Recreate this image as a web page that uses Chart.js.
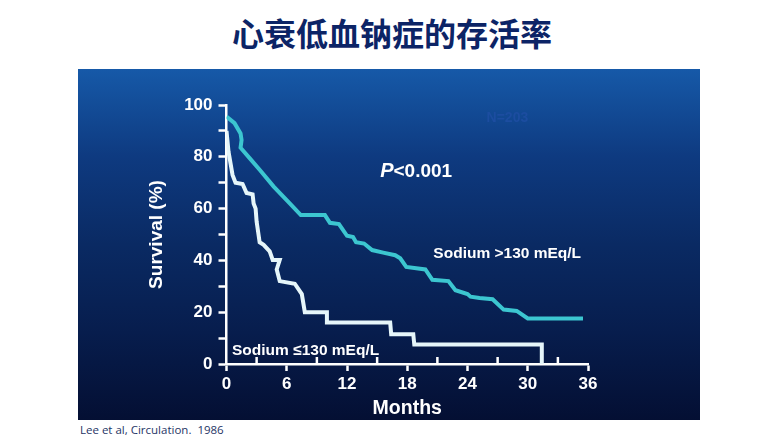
<!DOCTYPE html>
<html>
<head>
<meta charset="utf-8">
<script src="https://cdn.jsdelivr.net/npm/chart.js@4"></script>
<style>
    body { margin: 0; width: 778px; height: 444px; background: #fff; position: relative; overflow: hidden; }
    #title { position: absolute; left: 0; top: 12px; width: 784px; text-align: center;
        font: bold 32px "Noto Sans CJK SC", sans-serif; color: #0c2466; line-height: 40px; }
    #panel { position: absolute; left: 78px; top: 69px; width: 622px; height: 351px;
        background: linear-gradient(to bottom, #1659a8 0%, #0e3a80 25%, #0a2a63 50%, #071d4d 75%, #040f33 100%); }
    #foot { position: absolute; left: 80px; top: 422px; font: 11.5px "Open Sans", sans-serif; color: #1f3566; }
</style>
</head>
<body>
<div id="title">心衰低血钠症的存活率</div>
<div id="panel"><canvas id="km_chart" width="622" height="351"></canvas></div>
<div id="foot">Lee et al, Circulation.&nbsp; 1986</div>
<script>
// Kaplan-Meier curves (months, % survival)
var highMonths =   [0, 0.8, 1.4, 1.5, 1.4, 2.3, 3.3, 4.7, 6.3, 7.4, 9.8, 10.3, 11.2, 12.0, 12.6, 12.9, 13.7, 14.5, 15.6, 16.8, 17.3, 17.9, 19.8, 20.5, 22.1, 22.8, 24.0, 24.3, 25.2, 26.5, 27.6, 28.9, 30.0, 35.5];
var highSurvival = [95.5, 93, 89, 86.5, 83.5, 79.5, 75, 68.5, 62, 57.5, 57.5, 54.5, 54, 49.5, 49, 47, 46.5, 44, 43, 42, 40.8, 37.5, 36.5, 32.5, 32, 28.5, 27, 26, 25.5, 25, 21, 20.5, 17.6, 17.6];

var lowMonths =   [0, 0.2, 0.6, 0.9, 1.6, 2.0, 2.6, 2.7, 2.9, 3.0, 3.3, 3.7, 4.3, 4.6, 5.3, 5.0, 5.3, 6.8, 7.5, 7.8, 10.0, 10.0, 16.3, 16.4, 18.6, 18.7, 31.4, 31.4];
var lowSurvival = [90, 82, 73, 70, 69.5, 66, 65.5, 62, 60, 55, 47, 46, 43.5, 40.2, 40.2, 36.5, 32, 31, 27, 20, 20, 16, 16, 11.5, 11.5, 7.5, 7.5, 0];

var yTicks = [0, 20, 40, 60, 80, 100];
var xTicks = [0, 6, 12, 18, 24, 30, 36];

// text labels: [text, month, survival]
var notes = [
    ["Sodium >130 mEq/L", 20.6, 42.6],
    ["Sodium \u2264130 mEq/L", 0.55, 5.3],
];
var pNote = ["P", "<0.001", 15.3, 74.2];
var nNote = ["N=203", 25.9, 95];

function toPoints(xs, ys) {
    return xs.map((x, i) => ({ x: x, y: ys[i] }));
}

const extras = {
    id: "extras",
    afterDraw(chart) {
        const ctx = chart.ctx;
        const xs = chart.scales.x, ys = chart.scales.y;
        ctx.save();
        // minor x ticks pointing up
        ctx.strokeStyle = "#ffffff";
        ctx.lineWidth = 2.5;
        for (let m = 3; m < 36; m += 6) {
            const px = xs.getPixelForValue(m);
            ctx.beginPath();
            ctx.moveTo(px, ys.bottom);
            ctx.lineTo(px, ys.bottom - 7);
            ctx.stroke();
        }
        ctx.fillStyle = "#ffffff";
        ctx.textBaseline = "middle";
        ctx.font = "bold 15.5px 'Liberation Sans', Arial, sans-serif";
        notes.forEach((n) => {
            ctx.fillText(n[0], xs.getPixelForValue(n[1]), ys.getPixelForValue(n[2]));
        });
        // P value
        let px = xs.getPixelForValue(pNote[2]);
        let py = ys.getPixelForValue(pNote[3]);
        ctx.font = "italic bold 20px 'Liberation Sans', Arial, sans-serif";
        ctx.fillText(pNote[0], px, py);
        px += ctx.measureText(pNote[0]).width;
        ctx.font = "bold 19px 'Liberation Sans', Arial, sans-serif";
        ctx.fillText(pNote[1], px, py);
        // faint N label
        ctx.fillStyle = "#1c4da0";
        ctx.font = "bold 14px 'Liberation Sans', Arial, sans-serif";
        ctx.fillText(nNote[0], xs.getPixelForValue(nNote[1]), ys.getPixelForValue(nNote[2]));
        ctx.restore();
    },
};

new Chart("km_chart", {
    type: "line",
    data: {
        datasets: [
            {
                label: "Sodium >130 mEq/L",
                data: toPoints(highMonths, highSurvival),
                borderColor: "#3cc6d0",
                borderWidth: 4,
                pointRadius: 0,
                tension: 0,
                borderJoinStyle: "miter",
            },
            {
                label: "Sodium \u2264130 mEq/L",
                data: toPoints(lowMonths, lowSurvival),
                borderColor: "#e6f6fa",
                borderWidth: 4,
                pointRadius: 0,
                tension: 0,
                borderJoinStyle: "miter",
            },
        ],
    },
    options: {
        responsive: false,
        animation: false,
        parsing: false,
        layout: { padding: { left: 67, right: 112, top: 36, bottom: 0 } },
        plugins: { legend: { display: false }, tooltip: { enabled: false } },
        scales: {
            x: {
                type: "linear",
                min: 0,
                max: 36,
                afterFit: (s) => { s.height = 56; },
                afterBuildTicks: (s) => { s.ticks = []; for (let m = 0; m <= 36; m += 3) s.ticks.push({ value: m }); },
                border: { color: "#ffffff", width: 2.5 },
                grid: {
                    drawOnChartArea: false,
                    tickLength: 7,
                    tickWidth: 2.5,
                    tickColor: (c) => (c.tick && xTicks.includes(c.tick.value) ? "#ffffff" : "rgba(0,0,0,0)"),
                },
                ticks: {
                    color: "#ffffff",
                    padding: 3,
                    maxRotation: 0,
                    autoSkip: false,
                    font: { family: "'Liberation Sans', Arial", size: 17, weight: "bold" },
                    callback: (v) => (xTicks.includes(v) ? v : ""),
                },
                title: {
                    display: true,
                    text: "Months",
                    color: "#ffffff",
                    padding: { top: 2, bottom: 0 },
                    font: { family: "'Liberation Sans', Arial", size: 19.5, weight: "bold" },
                },
            },
            y: {
                min: 0,
                max: 100,
                afterFit: (s) => { s.width = 81.5; },
                afterBuildTicks: (s) => { s.ticks = []; for (let v = 0; v <= 100; v += 10) s.ticks.push({ value: v }); },
                border: { color: "#ffffff", width: 2.5 },
                grid: { drawOnChartArea: false, tickLength: 8, tickWidth: 2.5, tickColor: "#ffffff" },
                ticks: {
                    color: "#ffffff",
                    padding: 6,
                    autoSkip: false,
                    font: { family: "'Liberation Sans', Arial", size: 17, weight: "bold" },
                    callback: (v) => (yTicks.includes(v) ? v : ""),
                },
                title: {
                    display: true,
                    text: "Survival (%)",
                    color: "#ffffff",
                    padding: { top: 0, bottom: 0 },
                    font: { family: "'Liberation Sans', Arial", size: 19, weight: "bold" },
                },
            },
        },
    },
    plugins: [extras],
});
</script>
</body>
</html>
